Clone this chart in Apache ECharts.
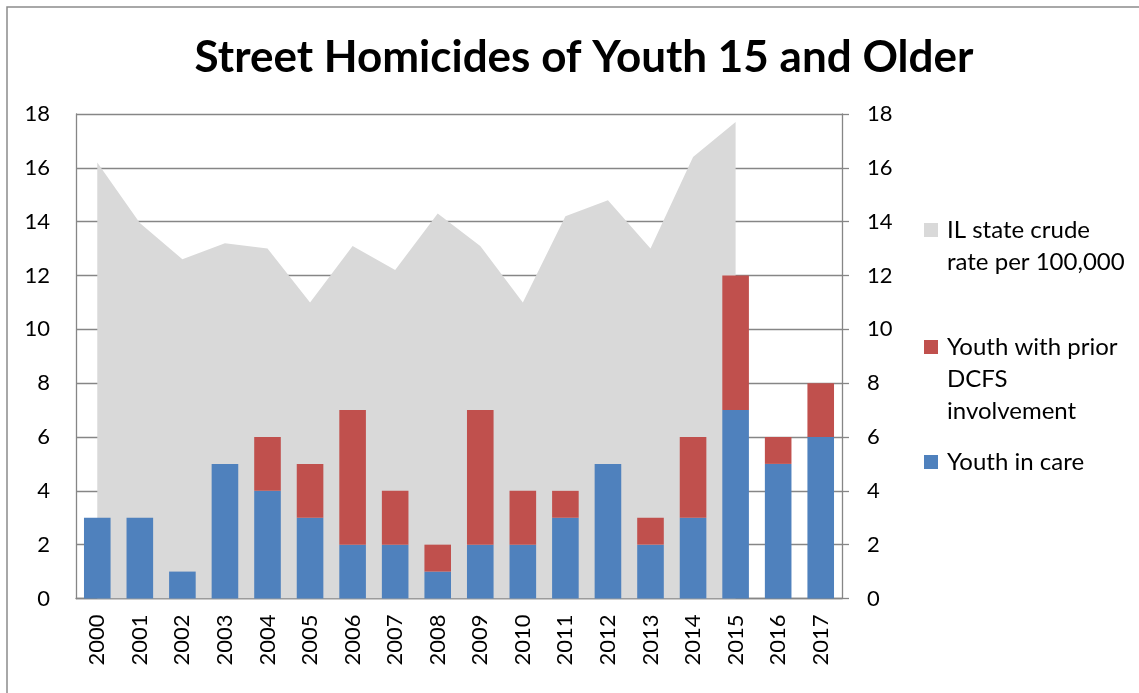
<!DOCTYPE html>
<html>
<head>
<meta charset="utf-8">
<script src="https://cdn.jsdelivr.net/npm/echarts@6/dist/echarts.min.js"></script>
<style>
  html, body { margin: 0; padding: 0; background: #fff; }
  #chart { width: 1139px; height: 693px; }
</style>
</head>
<body>
<div id="chart"></div>
<script>
// ===== 数据 =====
const years = ['2000', '2001', '2002', '2003', '2004', '2005', '2006', '2007', '2008',
  '2009', '2010', '2011', '2012', '2013', '2014', '2015', '2016', '2017'];
const ilRate = [16.2, 13.95, 12.6, 13.2, 13.0, 11.0, 13.1, 12.2, 14.3,
  13.1, 11.0, 14.2, 14.8, 13.0, 16.4, 17.7, null, null];
const priorDcfs = [0, 0, 0, 0, 2, 2, 5, 2, 1, 5, 2, 1, 0, 1, 3, 5, 1, 2];
const inCare = [3, 3, 1, 5, 4, 3, 2, 2, 1, 2, 2, 3, 5, 2, 3, 7, 5, 6];
const yTicks = { min: 0, max: 18, interval: 2 };

const FONT = 'Lato, "Open Sans", sans-serif';
const GRID_COLOR = '#868686';

// 图例（第一行放在 legend 里，其余行用 graphic 补上）
const legendRows = [
  { name: 'IL state crude rate per 100,000', lines: ['IL state crude', 'rate per 100,000'], y: 230 },
  { name: 'Youth with prior DCFS involvement', lines: ['Youth with prior', 'DCFS', 'involvement'], y: 347 },
  { name: 'Youth in care', lines: ['Youth in care'], y: 462 }
];

const chart = echarts.init(document.getElementById('chart'), null, { renderer: 'canvas' });

function valueAxis(position) {
  return {
    type: 'value',
    position,
    min: yTicks.min,
    max: yTicks.max,
    interval: yTicks.interval,
    axisLine: { show: true, lineStyle: { color: GRID_COLOR, width: 1.3 } },
    axisTick: { show: position === 'right', length: 7, lineStyle: { color: GRID_COLOR, width: 1.3 } },
    splitLine: { show: position === 'left', lineStyle: { color: GRID_COLOR, width: 1.3 } },
    axisLabel: { color: '#000', fontSize: 22, fontFamily: FONT, margin: position === 'left' ? 26 : 25 }
  };
}

const legends = legendRows.map(r => ({
  data: [r.name],
  orient: 'vertical',
  left: 924,
  top: r.y - 16,
  padding: 0,
  itemWidth: 14,
  itemHeight: 14,
  icon: 'rect',
  selectedMode: false,
  formatter: () => r.lines[0],
  textStyle: { color: '#000', fontSize: 24, fontFamily: FONT, lineHeight: 32, padding: [0, 0, 0, 4] }
}));

const extraLines = [];
legendRows.forEach(r => {
  r.lines.slice(1).forEach((t, i) => {
    extraLines.push({
      type: 'text',
      left: 947,
      top: r.y + 32 * (i + 1) - 16,
      style: { text: t, fill: '#000', fontSize: 24, fontFamily: FONT, lineHeight: 32, verticalAlign: 'top' }
    });
  });
});

const option = {
  backgroundColor: '#fff',
  animation: false,
  title: {
    text: 'Street Homicides of Youth 15 and Older',
    left: 579,
    textAlign: 'center',
    top: 31,
    textStyle: { color: '#000', fontSize: 44, fontWeight: 'bold', fontFamily: FONT }
  },
  legend: legends,
  grid: { left: 76, right: 297, top: 114, bottom: 94.5, containLabel: false },
  xAxis: {
    type: 'category',
    data: years,
    boundaryGap: true,
    axisLine: { show: true, lineStyle: { color: GRID_COLOR, width: 1.3 } },
    axisTick: { show: false },
    axisLabel: { color: '#000', fontSize: 22, fontFamily: FONT, rotate: 90, margin: 16, interval: 0 }
  },
  yAxis: [valueAxis('left'), valueAxis('right')],
  graphic: [
    {
      type: 'rect',
      shape: { x: 7, y: 7, width: 1300, height: 900 },
      style: { fill: 'none', stroke: '#8c8c8c', lineWidth: 1.5 },
      silent: true
    }
  ].concat(extraLines),
  series: [
    {
      name: 'IL state crude rate per 100,000',
      type: 'line',
      data: ilRate,
      yAxisIndex: 1,
      showSymbol: false,
      symbol: 'none',
      connectNulls: false,
      lineStyle: { width: 0 },
      itemStyle: { color: '#D9D9D9' },
      areaStyle: { color: '#D9D9D9', opacity: 1 },
      z: 1
    },
    {
      name: 'Youth in care',
      type: 'bar',
      stack: 'youth',
      data: inCare,
      barCategoryGap: '37.5%',
      itemStyle: { color: '#4F81BD' },
      z: 3
    },
    {
      name: 'Youth with prior DCFS involvement',
      type: 'bar',
      stack: 'youth',
      data: priorDcfs,
      itemStyle: { color: '#C0504D' },
      z: 3
    }
  ]
};

chart.setOption(option);
</script>
</body>
</html>
